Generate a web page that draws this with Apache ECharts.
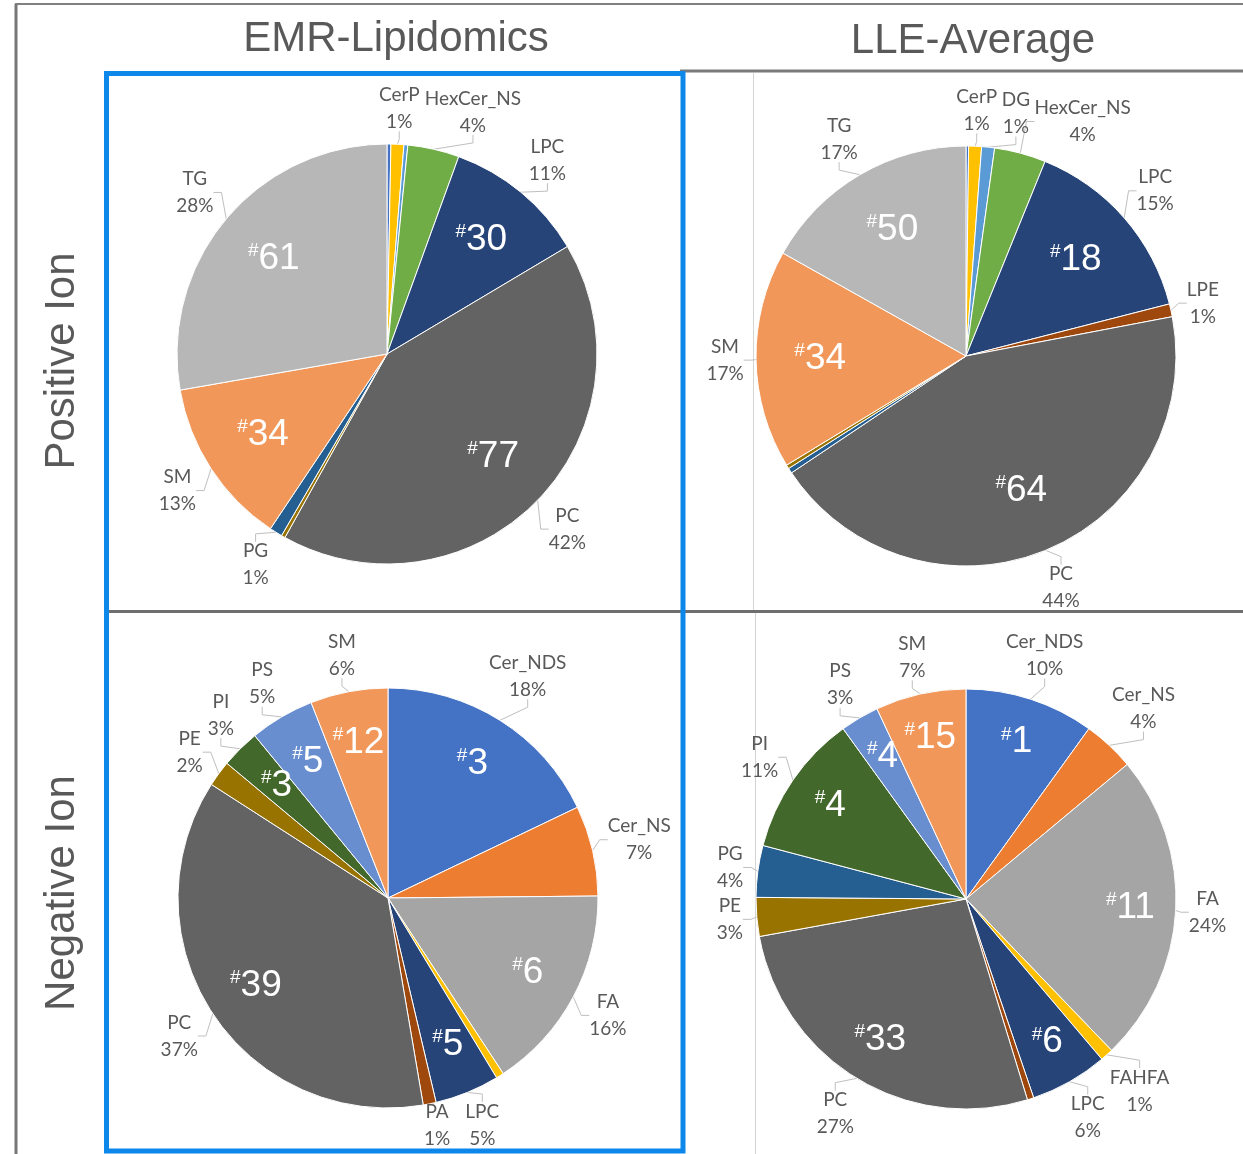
<!DOCTYPE html>
<html>
<head>
<meta charset="utf-8">
<title>Lipid class composition</title>
<script src="https://cdn.jsdelivr.net/npm/echarts@6/dist/echarts.min.js"></script>
<style>
  html, body { margin: 0; padding: 0; background: #ffffff; }
  #chart { width: 1243px; height: 1154px; }
</style>
</head>
<body>
<div id="chart"></div>
<script>
// ---- data: share of signal per lipid class (%) and number of species (#) ----
const columnTitles = ['EMR-Lipidomics', 'LLE-Average'];
const rowTitles = ['Positive Ion', 'Negative Ion'];

// Positive ion, EMR-Lipidomics
const posEmrClasses = ['Cer_NDS', 'CerP', 'DG', 'HexCer_NS', 'LPC', 'PC', 'PE', 'PG', 'SM', 'TG'];
const posEmrShares  = [0.3, 1, 0.3, 4, 11, 42, 0.3, 1, 13, 28];
const posEmrCounts  = [null, null, null, null, 30, 77, null, null, 34, 61];
const posEmrLabeled = [false, true, false, true, true, true, false, true, true, true];

// Positive ion, LLE-Average
const posLleClasses = ['Cer_NDS', 'CerP', 'DG', 'HexCer_NS', 'LPC', 'LPE', 'PC', 'PG', 'PE', 'SM', 'TG'];
const posLleShares  = [0.2, 1, 1, 4, 15, 1, 44, 0.4, 0.3, 17, 17];
const posLleCounts  = [null, null, null, null, 18, null, 64, null, null, 34, 50];
const posLleLabeled = [false, true, true, true, true, true, true, false, false, true, true];

// Negative ion, EMR-Lipidomics
const negEmrClasses = ['Cer_NDS', 'Cer_NS', 'FA', 'FAHFA', 'LPC', 'PA', 'PC', 'PE', 'PI', 'PS', 'SM'];
const negEmrShares  = [18, 7, 16, 0.6, 5, 1, 37, 2, 3, 5, 6];
const negEmrCounts  = [3, null, 6, null, 5, null, 39, null, 3, 5, 12];
const negEmrLabeled = [true, true, true, false, true, true, true, true, true, true, true];

// Negative ion, LLE-Average
const negLleClasses = ['Cer_NDS', 'Cer_NS', 'FA', 'FAHFA', 'LPC', 'PA', 'PC', 'PE', 'PG', 'PI', 'PS', 'SM'];
const negLleShares  = [10, 4, 24, 1, 6, 0.5, 27, 3, 4, 11, 3, 7];
const negLleCounts  = [1, null, 11, null, 6, null, 33, null, null, 4, 4, 15];
const negLleLabeled = [true, true, true, true, true, false, true, true, true, true, true, true];

// ---- styling ----
const classColors = {
  'Cer_NDS': '#4472C4', 'Cer_NS': '#ED7D31', 'FA': '#A5A5A5', 'FAHFA': '#FFC000',
  'CerP': '#FFC000', 'DG': '#5B9BD5', 'HexCer_NS': '#70AD47', 'LPC': '#264478',
  'LPE': '#9E480E', 'PA': '#9E480E', 'PC': '#636363', 'PE': '#997300',
  'PG': '#255E91', 'PI': '#43682B', 'PS': '#698ED0', 'SM': '#F1975A', 'TG': '#B7B7B7'
};
const TEXT_GREY = '#595959';
const CHART_W = 1243;
const CHART_H = 1154;
const PIE_R = 210;
const LABEL_GAP = 12;      // space between the rim and the nearest edge of an outside label
const LABEL_BOTTOM = 1148; // lowest y an outside label may reach

const panels = [
  { classes: posEmrClasses, shares: posEmrShares, counts: posEmrCounts, labeled: posEmrLabeled, center: [387, 354], countRing: 0.69, labelTop: 78 },
  { classes: posLleClasses, shares: posLleShares, counts: posLleCounts, labeled: posLleLabeled, center: [966, 356], countRing: 0.68, labelTop: 76 },
  { classes: negEmrClasses, shares: negEmrShares, counts: negEmrCounts, labeled: negEmrLabeled, center: [388, 898], countRing: 0.74, labelTop: 616 },
  { classes: negLleClasses, shares: negLleShares, counts: negLleCounts, labeled: negLleLabeled, center: [966, 899], countRing: 0.77, labelTop: 616 }
];

// mid-angle of a slice (radians, clockwise from 12 o'clock)
function midAngle(p, idx) {
  const total = p.shares.reduce((a, b) => a + b, 0);
  let before = 0;
  for (let i = 0; i < idx; i++) before += p.shares[i];
  return 2 * Math.PI * (before + p.shares[idx] / 2) / total;
}

// Outside labels: centred just beyond the rim along the slice's mid-angle,
// then slid clockwise around the pie while they collide with earlier labels.
const placedLabels = {};
function rectsOverlap(a, b) {
  return a.x < b.x + b.w && b.x < a.x + a.w && a.y < b.y + b.h && b.y < a.y + a.h;
}
function outsideLabelLayout(params) {
  const p = panels[params.seriesIndex];
  if (!p || !p.labeled[params.dataIndex]) return {};
  const th = midAngle(p, params.dataIndex);
  const ux = Math.sin(th), uy = -Math.cos(th);
  const w = params.labelRect.width, h = params.labelRect.height;
  const ext = Math.abs(ux) * w / 2 + Math.abs(uy) * h / 2;
  const d = PIE_R + LABEL_GAP + ext;
  let x = p.center[0] + ux * d;
  let y = p.center[1] + uy * d;
  const tx = -uy, ty = ux;
  const store = placedLabels[params.seriesIndex] || (placedLabels[params.seriesIndex] = {});
  const clampIt = () => {
    x = Math.min(Math.max(x, w / 2 + 2), CHART_W - w / 2 - 2);
    y = Math.min(Math.max(y, p.labelTop + h / 2), LABEL_BOTTOM - h / 2);
  };
  clampIt();
  for (let step = 0; step < 80; step++) {
    const r = { x: x - w / 2 - 2, y: y - h / 2, w: w + 4, h: h };
    let hit = false;
    for (const k in store) {
      if (+k < params.dataIndex && rectsOverlap(r, store[k])) { hit = true; break; }
    }
    if (!hit) break;
    x += tx * 2; y += ty * 2;
    clampIt();
  }
  store[params.dataIndex] = { x: x - w / 2 - 2, y: y - h / 2, w: w + 4, h: h };
  return { x: x, y: y, align: 'center', verticalAlign: 'middle', hideOverlap: false };
}

function sliceSeries(p) {
  return {
    type: 'pie',
    center: p.center,
    radius: PIE_R,
    startAngle: 90,
    clockwise: true,
    silent: true,
    animation: false,
    avoidLabelOverlap: false,
    itemStyle: { borderColor: '#ffffff', borderWidth: 1 },
    label: {
      position: 'outside',
      overflow: 'none',
      formatter: '{t|{b}}\n{t|{c}%}',
      rich: { t: { color: TEXT_GREY, fontFamily: 'Lato', fontSize: 19, lineHeight: 27, align: 'center' } }
    },
    labelLine: { length: 12, length2: 8, lineStyle: { color: '#BFBFBF', width: 1 } },
    labelLayout: outsideLabelLayout,
    data: p.classes.map((c, i) => ({
      name: c,
      value: p.shares[i],
      itemStyle: { color: classColors[c] },
      label: { show: p.labeled[i] },
      labelLine: { show: p.labeled[i] }
    }))
  };
}

// invisible copy of each pie that carries the species counts inside the slices
function countSeries(p) {
  return {
    type: 'pie',
    center: p.center,
    radius: PIE_R * p.countRing * 2,
    startAngle: 90,
    clockwise: true,
    silent: true,
    animation: false,
    avoidLabelOverlap: false,
    labelLayout: { hideOverlap: false },
    itemStyle: { color: 'rgba(0,0,0,0)', borderWidth: 0 },
    labelLine: { show: false },
    data: p.classes.map((c, i) => ({
      name: c,
      value: p.shares[i],
      label: {
        show: p.counts[i] !== null,
        position: 'inside',
        formatter: p.counts[i] !== null ? '{h|#}{n|' + p.counts[i] + '}' : '',
        rich: {
          h: { color: '#ffffff', fontFamily: 'Liberation Sans', fontSize: 19, padding: [0, 0, 16, 0] },
          n: { color: '#ffffff', fontFamily: 'Liberation Sans', fontSize: 37 }
        }
      }
    }))
  };
}

const frameGrey = '#777777';
const graphics = [
  // outer frame
  { type: 'line', shape: { x1: 15, y1: 4, x2: 1243, y2: 4 }, style: { stroke: '#808080', lineWidth: 2 } },
  { type: 'line', shape: { x1: 16, y1: 4, x2: 16, y2: 1154 }, style: { stroke: frameGrey, lineWidth: 3 } },
  // panel rules
  { type: 'line', shape: { x1: 680, y1: 71, x2: 1243, y2: 71 }, style: { stroke: '#7a7a7a', lineWidth: 3 } },
  { type: 'line', shape: { x1: 104, y1: 611.5, x2: 1243, y2: 611.5 }, style: { stroke: '#6e6e6e', lineWidth: 3 } },
  { type: 'line', shape: { x1: 753.5, y1: 73, x2: 753.5, y2: 610 }, style: { stroke: '#d4d4d4', lineWidth: 1 } },
  { type: 'line', shape: { x1: 755.5, y1: 613, x2: 755.5, y2: 1154 }, style: { stroke: '#d4d4d4', lineWidth: 1 } },
  // highlight box round the EMR column
  { type: 'rect', shape: { x: 106.5, y: 73.5, width: 576.5, height: 1077.5 }, style: { fill: 'none', stroke: '#0d87e9', lineWidth: 5 }, z: 10 },
  // column titles
  { type: 'text', x: 396, y: 39, style: { text: columnTitles[0], fill: TEXT_GREY, fontFamily: 'Liberation Sans', fontSize: 42, align: 'center', verticalAlign: 'middle' } },
  { type: 'text', x: 973, y: 41, style: { text: columnTitles[1], fill: TEXT_GREY, fontFamily: 'Liberation Sans', fontSize: 42, align: 'center', verticalAlign: 'middle' } },
  // row titles
  { type: 'text', x: 62, y: 361, rotation: Math.PI / 2, style: { text: rowTitles[0], fill: TEXT_GREY, fontFamily: 'Liberation Sans', fontSize: 42, align: 'center', verticalAlign: 'middle' } },
  { type: 'text', x: 62, y: 893, rotation: Math.PI / 2, style: { text: rowTitles[1], fill: TEXT_GREY, fontFamily: 'Liberation Sans', fontSize: 42, align: 'center', verticalAlign: 'middle' } }
];

const chart = echarts.init(document.getElementById('chart'), null, { renderer: 'canvas' });
chart.setOption({
  backgroundColor: '#ffffff',
  animation: false,
  graphic: graphics,
  series: panels.map(sliceSeries).concat(panels.map(countSeries))
});
</script>
</body>
</html>
